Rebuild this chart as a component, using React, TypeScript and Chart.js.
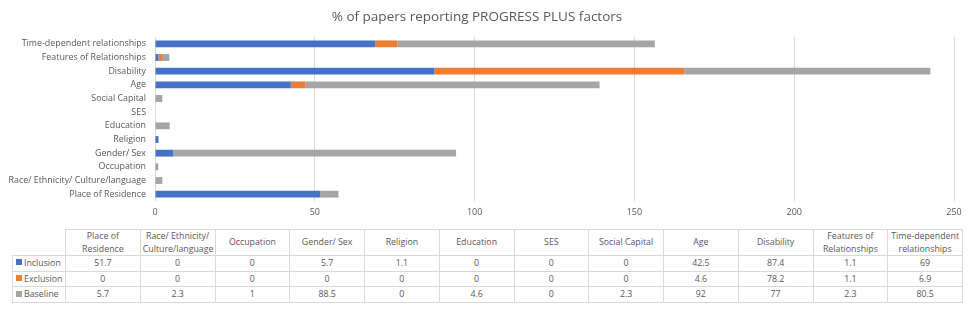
import React, { useEffect, useRef } from "react";
import { Chart, registerables } from "chart.js";

Chart.register(...registerables);

const categories = [
  "Place of Residence",
  "Race/ Ethnicity/ Culture/language",
  "Occupation",
  "Gender/ Sex",
  "Religion",
  "Education",
  "SES",
  "Social Capital",
  "Age",
  "Disability",
  "Features of Relationships",
  "Time-dependent relationships",
];

const inclusion = [51.7, 0, 0, 5.7, 1.1, 0, 0, 0, 42.5, 87.4, 1.1, 69];
const exclusion = [0, 0, 0, 0, 0, 0, 0, 0, 4.6, 78.2, 1.1, 6.9];
const baseline = [5.7, 2.3, 1, 88.5, 0, 4.6, 0, 2.3, 92, 77, 2.3, 80.5];

const xTicks = [0, 50, 100, 150, 200, 250];

const seriesNames = ["Inclusion", "Exclusion", "Baseline"];
const seriesColors = ["#4472C4", "#ED7D31", "#A5A5A5"];
const seriesValues = [inclusion, exclusion, baseline];

const FONT = "'Open Sans', 'Liberation Sans', sans-serif";
const TEXT = "#595959";
const GRID = "#d9d9d9";

export default function App() {
  const ref = useRef<HTMLCanvasElement | null>(null);

  useEffect(() => {
    if (!ref.current) return;
    const chart = new Chart(ref.current, {
      type: "bar",
      data: {
        labels: categories,
        datasets: seriesNames.map((name, i) => ({
          label: name,
          data: seriesValues[i],
          backgroundColor: seriesColors[i],
          borderWidth: 0,
          categoryPercentage: 0.5,
          barPercentage: 1,
        })),
      },
      options: {
        indexAxis: "y",
        animation: false,
        responsive: false,
        maintainAspectRatio: false,
        layout: { padding: { left: 0, right: 18, top: 0, bottom: 0 } },
        plugins: {
          legend: { display: false },
          tooltip: { enabled: false },
          title: {
            display: true,
            text: "% of papers reporting PROGRESS PLUS factors",
            color: TEXT,
            font: { family: FONT, size: 13.5, weight: "normal" },
            padding: { top: 9, bottom: 11.8 },
          },
        },
        scales: {
          x: {
            stacked: true,
            min: 0,
            max: 250,
            afterBuildTicks: (s: any) => {
              s.ticks = xTicks.map((v) => ({ value: v }));
            },
            afterFit: (s: any) => {
              s.height = 21;
            },
            grid: { color: GRID, drawTicks: false },
            border: { display: false },
            ticks: {
              color: TEXT,
              padding: 6,
              font: { family: FONT, size: 9 },
            },
          },
          y: {
            stacked: true,
            reverse: true,
            afterFit: (s: any) => {
              s.width = 155;
            },
            grid: { display: false, drawTicks: false },
            border: { display: false },
            ticks: {
              color: TEXT,
              padding: 9,
              autoSkip: false,
              font: { family: FONT, size: 8.9 },
            },
          },
        },
      },
    });
    return () => chart.destroy();
  }, []);

  const cellBorder = "1px solid #d9d9d9";
  const colW = (950 - 53) / categories.length;

  return (
    <div
      style={{
        position: "absolute",
        left: 0,
        top: 0,
        width: 972,
        height: 313,
        background: "#fff",
        overflow: "hidden",
      }}
    >
      <canvas ref={ref} width={972} height={222} style={{ display: "block" }} />
      <table
        style={{
          position: "absolute",
          left: 12,
          top: 229,
          width: 950,
          tableLayout: "fixed",
          borderCollapse: "collapse",
          fontFamily: FONT,
          fontSize: 8.8,
          color: TEXT,
        }}
      >
        <colgroup>
          <col style={{ width: 53 }} />
          {categories.map((c) => (
            <col key={c} style={{ width: colW }} />
          ))}
        </colgroup>
        <thead>
          <tr style={{ height: 25 }}>
            <th style={{ border: "none", padding: 0 }} />
            {categories.map((c) => (
              <th
                key={c}
                style={{
                  border: cellBorder,
                  fontWeight: "normal",
                  padding: "0 2px",
                  lineHeight: "12.5px",
                  textAlign: "center",
                  verticalAlign: "middle",
                }}
              >
                {c}
              </th>
            ))}
          </tr>
        </thead>
        <tbody>
          {seriesNames.map((name, i) => (
            <tr key={name} style={{ height: 15.7 }}>
              <td
                style={{
                  border: cellBorder,
                  padding: "0 0 0 3px",
                  whiteSpace: "nowrap",
                  lineHeight: "13px",
                }}
              >
                <span
                  style={{
                    display: "inline-block",
                    width: 6,
                    height: 6,
                    background: seriesColors[i],
                    marginRight: 2,
                    verticalAlign: "middle",
                    position: "relative",
                    top: -1,
                  }}
                />
                {name}
              </td>
              {seriesValues[i].map((v, j) => (
                <td
                  key={j}
                  style={{
                    border: cellBorder,
                    textAlign: "center",
                    padding: 0,
                    lineHeight: "13px",
                  }}
                >
                  {v}
                </td>
              ))}
            </tr>
          ))}
        </tbody>
      </table>
    </div>
  );
}
